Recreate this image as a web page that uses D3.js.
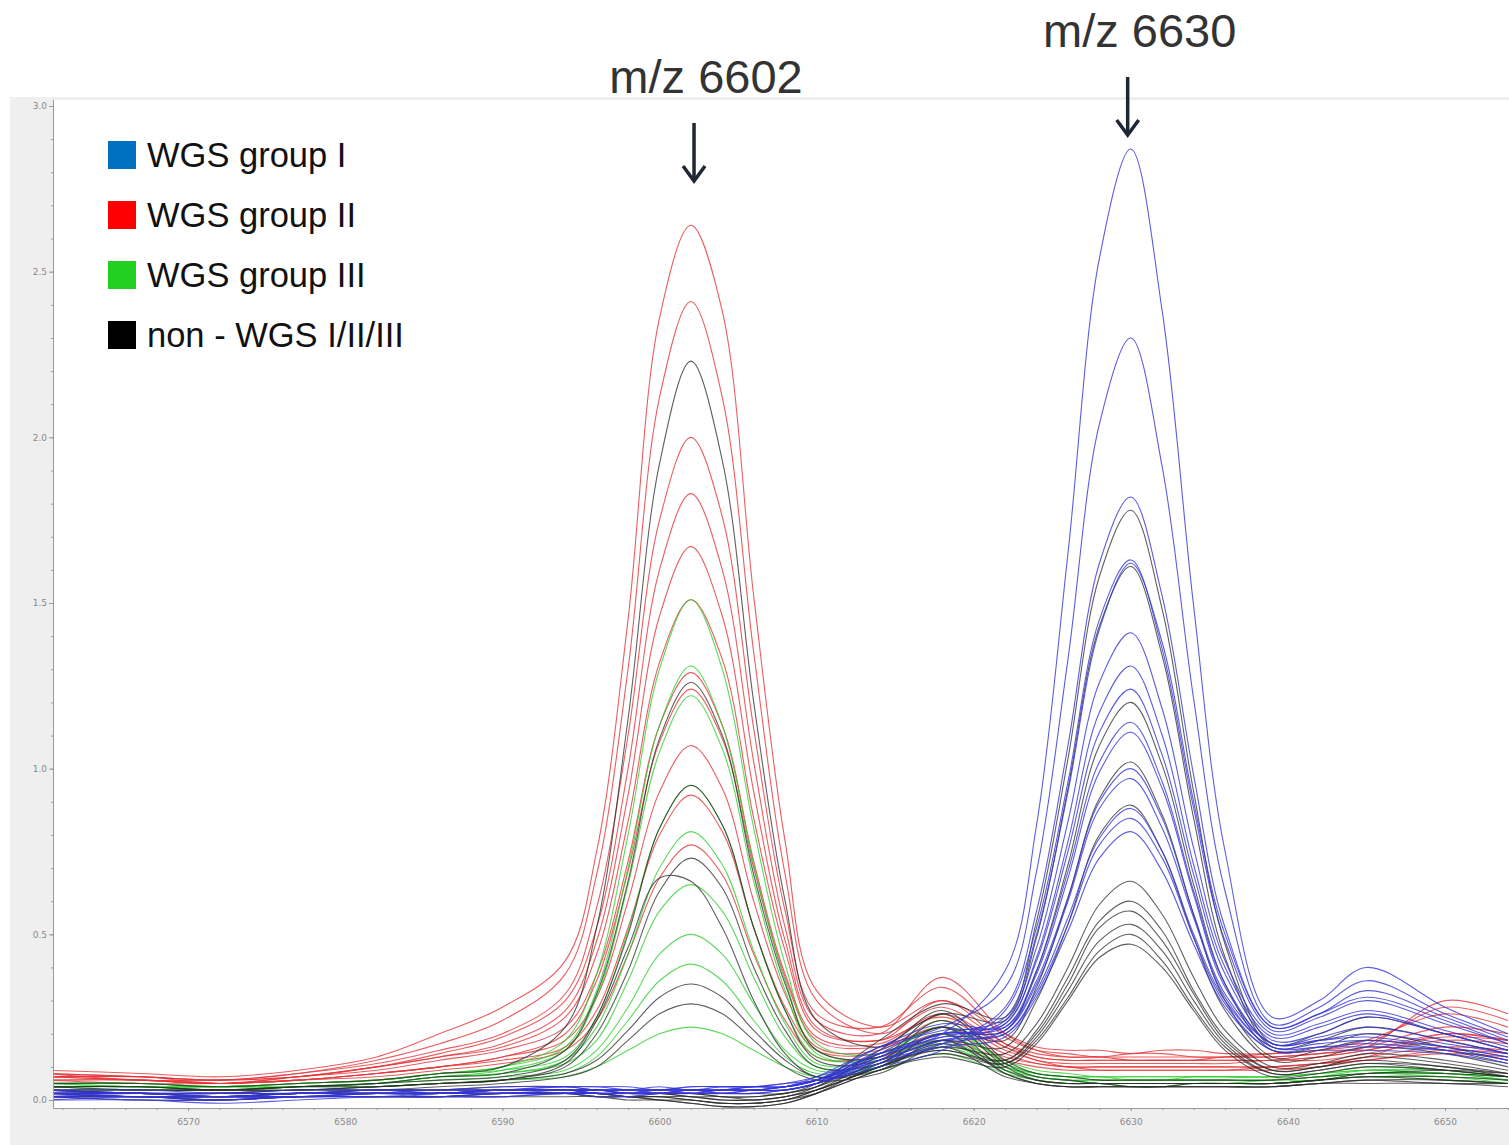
<!DOCTYPE html>
<html>
<head>
<meta charset="utf-8">
<script src="https://cdn.jsdelivr.net/npm/d3@7"></script>
<style>
body { margin: 0; background: #fff; }
svg { display: block; font-family: "Liberation Sans", Arial, sans-serif; }
</style>
</head>
<body>
<script>

var mz = [6561, 6567, 6572, 6577, 6582, 6586, 6590, 6594, 6596, 6598, 6600, 6602, 6604, 6606, 6608, 6610,
          6614, 6618, 6622, 6624, 6626, 6628, 6630, 6632, 6634, 6636, 6639, 6642, 6645, 6650, 6654];

// WGS group I (blue) - peak at 6630
var groupI = [
  [0.02,0.01,0.01,0.02,0.02,0.02,0.03,0.03,0.03,0.02,0.03,0.03,0.03,0.04,0.04,0.06,0.14,0.2, 0.39,0.83,1.65,2.54,2.87,2.38,1.49,0.75,0.25, 0.3,0.4,0.28,0.2],
  [0.01,0.01,0.0,0.01,0.02,0.01,0.02,0.02,0.02,0.02,0.02,0.03,0.02,0.03,0.04,0.07,0.16,0.22, 0.34,0.69,1.33,2.04,2.30,1.91,1.21,0.63,0.23, 0.28,0.36,0.26,0.19],
  [0.03,0.02,0.02,0.02,0.03,0.03,0.03,0.04,0.04,0.03,0.03,0.04,0.04,0.04,0.05,0.06,0.12,0.17, 0.28,0.57,1.07,1.62,1.82,1.52,0.98,0.52,0.22, 0.26,0.33,0.25,0.18],
  [0.0,0.0,-0.01,0.0,0.01,0.01,0.01,0.02,0.02,0.01,0.02,0.02,0.02,0.03,0.03,0.05,0.1,0.15, 0.27,0.52,0.96,1.45,1.63,1.36,0.88,0.48,0.21, 0.25,0.3,0.23,0.17],
  [0.02,0.02,0.01,0.01,0.02,0.03,0.03,0.03,0.02,0.02,0.03,0.02,0.03,0.03,0.04,0.06,0.13,0.19, 0.24,0.46,0.84,1.26,1.41,1.18,0.76,0.42,0.2, 0.23,0.27,0.21,0.16],
  [0.01,0.02,0.01,0.01,0.01,0.02,0.02,0.03,0.03,0.03,0.02,0.03,0.03,0.03,0.03,0.05,0.15,0.21, 0.23,0.43,0.78,1.17,1.31,1.1,0.71,0.4,0.19, 0.22,0.26,0.2,0.15],
  [0.03,0.02,0.02,0.03,0.03,0.02,0.03,0.04,0.03,0.03,0.04,0.03,0.04,0.04,0.04,0.06,0.12,0.18, 0.23,0.42,0.75,1.11,1.24,1.04,0.68,0.38,0.18, 0.2,0.25,0.2,0.15],
  [0.01,0.0,0.0,0.01,0.01,0.01,0.02,0.02,0.02,0.02,0.02,0.02,0.02,0.02,0.03,0.05,0.13,0.2, 0.22,0.39,0.69,1.02,1.14,0.96,0.63,0.35,0.17, 0.19,0.22,0.18,0.14],
  [0.02,0.02,0.01,0.02,0.02,0.02,0.03,0.03,0.03,0.03,0.03,0.03,0.03,0.03,0.04,0.06,0.16,0.23, 0.22,0.38,0.67,0.99,1.11,0.94,0.62,0.34,0.17, 0.18,0.2,0.17,0.14],
  [0.02,0.01,0.01,0.01,0.02,0.02,0.02,0.02,0.03,0.02,0.02,0.03,0.03,0.03,0.03,0.05,0.11,0.17, 0.21,0.36,0.61,0.9,1.0,0.85,0.56,0.32,0.17, 0.18,0.19,0.16,0.13],
  [0.03,0.03,0.02,0.02,0.03,0.03,0.04,0.04,0.04,0.04,0.03,0.04,0.04,0.04,0.05,0.07,0.14,0.2, 0.21,0.35,0.6,0.88,0.97,0.82,0.55,0.31,0.16, 0.17,0.18,0.16,0.13],
  [0.0,0.01,0.0,0.01,0.01,0.01,0.01,0.02,0.01,0.01,0.02,0.02,0.02,0.02,0.03,0.05,0.12,0.18, 0.2,0.33,0.55,0.79,0.88,0.75,0.5,0.3,0.16, 0.16,0.17,0.15,0.12],
  [0.02,0.02,0.02,0.02,0.02,0.02,0.03,0.03,0.03,0.03,0.03,0.03,0.03,0.03,0.04,0.06,0.13,0.19, 0.2,0.32,0.53,0.77,0.85,0.73,0.49,0.29,0.15, 0.16,0.16,0.15,0.12],
  [0.01,0.01,0.01,0.01,0.02,0.02,0.02,0.02,0.02,0.02,0.02,0.02,0.03,0.03,0.03,0.05,0.11,0.16, 0.19,0.31,0.51,0.73,0.81,0.69,0.47,0.28,0.15, 0.15,0.15,0.14,0.11],
  [0.02,0.02,0.01,0.02,0.03,0.02,0.03,0.03,0.03,0.03,0.03,0.03,0.03,0.04,0.04,0.06,0.14,0.2, 0.25,0.5,0.93,1.42,1.62,1.38,0.9,0.5,0.22, 0.26,0.31,0.24,0.17]
];

// WGS group II (red) - peak at 6602
var groupII = [
  [0.09,0.08,0.07,0.09,0.13,0.2,0.28,0.42,0.75,1.45,2.36,2.64,2.38,1.52,0.78,0.33,0.22,0.3,0.2,0.16,0.15,0.15,0.14,0.15,0.15,0.14,0.14,0.15,0.18,0.26,0.22],
  [0.08,0.07,0.06,0.08,0.12,0.17,0.24,0.38,0.68,1.3,2.12,2.41,2.12,1.35,0.68,0.3,0.2,0.28,0.17,0.14,0.13,0.13,0.13,0.13,0.13,0.13,0.13,0.14,0.16,0.22,0.2],
  [0.07,0.07,0.06,0.08,0.11,0.15,0.2,0.32,0.58,1.1,1.75,2.0,1.76,1.12,0.57,0.26,0.22,0.34,0.19,0.15,0.14,0.13,0.14,0.14,0.13,0.13,0.14,0.15,0.17,0.28,0.24],
  [0.08,0.06,0.06,0.07,0.1,0.14,0.19,0.3,0.52,1.0,1.6,1.83,1.6,1.02,0.52,0.24,0.2,0.37,0.2,0.15,0.13,0.13,0.12,0.12,0.12,0.13,0.13,0.14,0.16,0.3,0.26],
  [0.07,0.07,0.05,0.07,0.1,0.13,0.17,0.27,0.48,0.92,1.46,1.67,1.46,0.93,0.48,0.22,0.18,0.3,0.17,0.13,0.12,0.12,0.12,0.12,0.12,0.12,0.12,0.13,0.15,0.2,0.18],
  [0.08,0.07,0.06,0.07,0.1,0.13,0.16,0.25,0.44,0.84,1.32,1.51,1.33,0.85,0.45,0.21,0.18,0.25,0.16,0.13,0.12,0.12,0.12,0.12,0.12,0.12,0.12,0.13,0.15,0.19,0.18],
  [0.06,0.06,0.05,0.07,0.09,0.12,0.15,0.22,0.38,0.72,1.13,1.29,1.13,0.72,0.38,0.19,0.17,0.26,0.16,0.12,0.11,0.11,0.11,0.11,0.11,0.11,0.12,0.12,0.14,0.18,0.17],
  [0.07,0.06,0.05,0.06,0.08,0.1,0.13,0.2,0.36,0.69,1.08,1.24,1.09,0.7,0.37,0.18,0.16,0.22,0.14,0.11,0.1,0.1,0.1,0.1,0.1,0.1,0.1,0.11,0.13,0.16,0.15],
  [0.06,0.06,0.05,0.06,0.08,0.1,0.13,0.18,0.31,0.6,0.93,1.07,0.94,0.6,0.32,0.16,0.15,0.24,0.15,0.12,0.1,0.1,0.1,0.1,0.1,0.1,0.1,0.11,0.13,0.2,0.18],
  [0.07,0.06,0.05,0.06,0.08,0.1,0.12,0.16,0.27,0.52,0.8,0.92,0.81,0.52,0.28,0.15,0.14,0.2,0.13,0.11,0.1,0.09,0.09,0.09,0.09,0.09,0.1,0.11,0.12,0.15,0.14],
  [0.06,0.05,0.05,0.06,0.07,0.09,0.11,0.15,0.24,0.44,0.67,0.77,0.68,0.44,0.24,0.13,0.13,0.18,0.12,0.1,0.09,0.09,0.09,0.09,0.09,0.09,0.09,0.1,0.12,0.14,0.13]
];

// WGS group III (green) - peak at 6602
var groupIII = [
  [0.05,0.05,0.04,0.05,0.06,0.08,0.1,0.18,0.38,0.8,1.3,1.51,1.3,0.82,0.41,0.17,0.14,0.22,0.12,0.09,0.08,0.07,0.07,0.07,0.07,0.07,0.07,0.08,0.09,0.08,0.07],
  [0.05,0.04,0.04,0.05,0.06,0.08,0.1,0.16,0.33,0.7,1.13,1.31,1.13,0.71,0.36,0.15,0.13,0.24,0.11,0.08,0.07,0.07,0.06,0.06,0.07,0.07,0.07,0.08,0.09,0.09,0.07],
  [0.04,0.04,0.04,0.04,0.05,0.07,0.09,0.15,0.31,0.65,1.05,1.22,1.06,0.66,0.33,0.14,0.12,0.2,0.1,0.08,0.07,0.06,0.06,0.06,0.06,0.06,0.06,0.07,0.08,0.08,0.06],
  [0.05,0.05,0.04,0.05,0.06,0.08,0.09,0.13,0.25,0.51,0.82,0.95,0.83,0.52,0.27,0.13,0.13,0.22,0.11,0.08,0.07,0.07,0.07,0.07,0.07,0.07,0.07,0.08,0.1,0.09,0.07],
  [0.04,0.04,0.03,0.04,0.05,0.07,0.08,0.12,0.22,0.44,0.7,0.81,0.71,0.45,0.23,0.11,0.12,0.18,0.1,0.07,0.06,0.06,0.06,0.06,0.06,0.06,0.06,0.07,0.08,0.08,0.06],
  [0.05,0.04,0.04,0.04,0.05,0.07,0.08,0.11,0.18,0.36,0.57,0.65,0.57,0.37,0.19,0.1,0.11,0.2,0.1,0.07,0.06,0.06,0.06,0.06,0.06,0.06,0.06,0.07,0.09,0.08,0.07],
  [0.04,0.04,0.03,0.04,0.05,0.06,0.07,0.09,0.15,0.28,0.44,0.5,0.44,0.29,0.15,0.09,0.1,0.17,0.09,0.07,0.06,0.05,0.05,0.05,0.05,0.05,0.06,0.06,0.08,0.07,0.06],
  [0.04,0.03,0.03,0.04,0.04,0.05,0.06,0.08,0.13,0.24,0.36,0.41,0.36,0.24,0.13,0.08,0.1,0.16,0.09,0.06,0.05,0.05,0.05,0.05,0.05,0.05,0.05,0.06,0.07,0.07,0.05],
  [0.03,0.03,0.03,0.03,0.04,0.05,0.06,0.07,0.1,0.15,0.2,0.22,0.2,0.15,0.1,0.07,0.09,0.14,0.08,0.06,0.05,0.05,0.04,0.04,0.05,0.05,0.05,0.06,0.07,0.06,0.05]
];

// non - WGS I/II/III (black) - some at 6602, some at 6630
var nonWGS = [
  [0.05,0.05,0.04,0.05,0.06,0.08,0.1,0.22,0.52,1.15,1.92,2.23,1.93,1.2,0.6,0.24,0.16,0.27,0.12,0.08,0.07,0.06,0.06,0.06,0.06,0.06,0.06,0.07,0.08,0.09,0.08],
  [0.04,0.04,0.03,0.04,0.05,0.07,0.08,0.15,0.32,0.66,1.09,1.26,1.1,0.68,0.35,0.15,0.13,0.26,0.11,0.07,0.06,0.05,0.05,0.05,0.05,0.05,0.05,0.06,0.08,0.08,0.07],
  [0.04,0.04,0.03,0.04,0.05,0.06,0.07,0.12,0.25,0.5,0.82,0.95,0.83,0.52,0.27,0.12,0.12,0.24,0.1,0.06,0.05,0.05,0.05,0.05,0.05,0.05,0.05,0.06,0.07,0.07,0.06],
  [0.04,0.03,0.03,0.04,0.04,0.05,0.06,0.1,0.2,0.39,0.63,0.73,0.64,0.4,0.21,0.1,0.11,0.22,0.09,0.06,0.05,0.05,0.04,0.04,0.05,0.05,0.05,0.06,0.07,0.06,0.05],
  [0.03,0.03,0.03,0.03,0.04,0.05,0.06,0.11,0.24,0.46,0.67,0.66,0.52,0.3,0.14,0.07,0.1,0.2,0.08,0.05,0.04,0.04,0.04,0.04,0.04,0.04,0.04,0.05,0.06,0.06,0.05],
  [0.03,0.03,0.03,0.03,0.04,0.05,0.06,0.08,0.12,0.21,0.31,0.35,0.31,0.21,0.12,0.07,0.09,0.18,0.08,0.05,0.04,0.04,0.04,0.04,0.04,0.04,0.04,0.05,0.06,0.05,0.05],
  [0.03,0.02,0.02,0.03,0.03,0.04,0.05,0.07,0.1,0.18,0.26,0.29,0.26,0.18,0.1,0.06,0.08,0.16,0.07,0.05,0.04,0.04,0.04,0.04,0.04,0.04,0.04,0.05,0.05,0.05,0.04],
  [0.03,0.02,0.02,0.03,0.03,0.03,0.04,0.04,0.03,0.03,0.03,0.03,0.02,0.02,0.02,0.05,0.18,0.29, 0.25,0.54,1.03,1.58,1.78,1.48,0.93,0.47,0.17, 0.2,0.25,0.2,0.15],
  [0.02,0.02,0.01,0.02,0.02,0.02,0.03,0.03,0.02,0.02,0.02,0.01,0.01,0.0,0.01,0.04,0.15,0.26, 0.24,0.49,0.94,1.43,1.61,1.34,0.85,0.43,0.16, 0.18,0.22,0.18,0.14],
  [0.02,0.01,0.01,0.02,0.02,0.02,0.02,0.02,0.02,0.01,0.01,0.0,-0.01,-0.01,0.0,0.03,0.12,0.2, 0.21,0.39,0.71,1.07,1.2,1.01,0.65,0.35,0.15, 0.16,0.2,0.16,0.12],
  [0.03,0.02,0.02,0.02,0.03,0.03,0.03,0.03,0.03,0.02,0.02,0.02,0.01,0.01,0.02,0.04,0.14,0.22, 0.18,0.34,0.61,0.91,1.02,0.86,0.56,0.3,0.13, 0.15,0.18,0.15,0.11],
  [0.01,0.01,0.0,0.01,0.01,0.01,0.02,0.02,0.01,0.01,0.0,-0.01,-0.02,-0.02,-0.01,0.02,0.11,0.18, 0.16,0.3,0.53,0.8,0.89,0.75,0.49,0.27,0.12, 0.13,0.16,0.14,0.1],
  [0.02,0.02,0.01,0.02,0.02,0.02,0.03,0.03,0.02,0.02,0.02,0.01,0.0,0.0,0.01,0.03,0.1,0.16, 0.14,0.23,0.4,0.59,0.66,0.56,0.37,0.21,0.1, 0.11,0.14,0.12,0.09],
  [0.01,0.01,0.01,0.01,0.02,0.02,0.02,0.02,0.02,0.01,0.01,0.0,-0.01,-0.01,0.0,0.03,0.1,0.17, 0.12,0.21,0.37,0.54,0.6,0.51,0.33,0.19,0.09, 0.1,0.13,0.11,0.08],
  [0.02,0.02,0.02,0.02,0.03,0.03,0.03,0.03,0.03,0.02,0.02,0.02,0.01,0.01,0.02,0.04,0.11,0.15, 0.12,0.2,0.35,0.52,0.57,0.48,0.32,0.18,0.09, 0.1,0.12,0.1,0.08],
  [0.01,0.0,0.0,0.01,0.01,0.01,0.01,0.01,0.01,0.0,0.0,-0.01,-0.02,-0.02,-0.01,0.02,0.09,0.14, 0.11,0.19,0.33,0.48,0.53,0.45,0.3,0.17,0.08, 0.09,0.11,0.1,0.07],
  [0.02,0.01,0.01,0.02,0.02,0.02,0.02,0.02,0.02,0.01,0.01,0.01,0.0,0.0,0.01,0.03,0.1,0.15, 0.11,0.18,0.31,0.45,0.5,0.42,0.28,0.16,0.08, 0.09,0.11,0.09,0.07],
  [0.01,0.01,0.0,0.01,0.01,0.01,0.02,0.02,0.01,0.01,0.0,0.0,-0.01,-0.01,0.0,0.02,0.09,0.13, 0.1,0.17,0.3,0.43,0.47,0.4,0.27,0.15,0.07, 0.08,0.1,0.09,0.07]
];

var yTicks = [0, 0.5, 1.0, 1.5, 2.0, 2.5, 3.0];
var xTicks = [6570, 6580, 6590, 6600, 6610, 6620, 6630, 6640, 6650];

var legendLabels = ["WGS group I", "WGS group II", "WGS group III", "non - WGS I/II/III"];
var legendColors = ["#0070c0", "#ff0000", "#22d022", "#000000"];

var peakLabels = ["m/z 6602", "m/z 6630"];
var peakMz = [6602.2, 6629.8];


var width = 1509, height = 1145;

var svg = d3.select("body").append("svg")
    .attr("width", width)
    .attr("height", height);

// scales
var x = d3.scaleLinear().domain([6561.4, 6654.07]).range([53, 1509]);
var y = d3.scaleLinear().domain([0, 3]).range([1100, 106]);

var plotTop = 100, plotBottom = 1108;

// grey panel and white plotting area
svg.append("rect")
    .attr("x", 10).attr("y", 97)
    .attr("width", width - 10).attr("height", height - 97)
    .attr("fill", "#efefef");

svg.append("rect")
    .attr("x", 54).attr("y", plotTop)
    .attr("width", width - 54).attr("height", plotBottom - plotTop)
    .attr("fill", "#ffffff");

svg.append("clipPath").attr("id", "plotClip")
    .append("rect")
    .attr("x", 54).attr("y", plotTop)
    .attr("width", width - 54).attr("height", plotBottom - plotTop);

// spectra
var line = d3.line()
    .x(function(d, i) { return x(mz[i]); })
    .y(function(d) { return y(d); })
    .curve(d3.curveCatmullRom.alpha(0.5));

var spectra = svg.append("g").attr("clip-path", "url(#plotClip)");

function drawGroup(data, color, opacity) {
    spectra.append("g")
        .selectAll("path")
        .data(data)
        .enter()
        .append("path")
        .attr("d", line)
        .attr("fill", "none")
        .attr("stroke", color)
        .attr("stroke-width", 1.1)
        .attr("stroke-opacity", opacity);
}

drawGroup(groupII, "#e4343a", 0.8);
drawGroup(groupIII, "#25cc25", 0.75);
drawGroup(nonWGS, "#2a2a2a", 0.75);
drawGroup(groupI, "#3434d6", 0.8);

// y axis (major + minor ticks)
var yMinor = d3.range(0, 3.01, 0.1);

svg.append("g")
    .attr("class", "axis")
    .attr("transform", "translate(53,0)")
    .call(d3.axisLeft(y).tickValues(yMinor).tickSize(2).tickSizeOuter(0).tickFormat(""));

svg.append("g")
    .attr("class", "axis")
    .attr("transform", "translate(53,0)")
    .call(d3.axisLeft(y).tickValues(yTicks).tickSize(4).tickSizeOuter(0)
        .tickPadding(2).tickFormat(d3.format(".1f")));

svg.append("line")
    .attr("x1", 53.5).attr("x2", 53.5)
    .attr("y1", plotTop).attr("y2", plotBottom)
    .attr("stroke", "#999");

// x axis (major + minor ticks)
var xMinor = d3.range(6562, 6655, 2);

svg.append("g")
    .attr("class", "axis")
    .attr("transform", "translate(0," + plotBottom + ")")
    .call(d3.axisBottom(x).tickValues(xMinor).tickSize(2).tickSizeOuter(0).tickFormat(""));

svg.append("g")
    .attr("class", "axis")
    .attr("transform", "translate(0," + plotBottom + ")")
    .call(d3.axisBottom(x).tickValues(xTicks).tickSize(3).tickSizeOuter(0)
        .tickPadding(8).tickFormat(d3.format("d")));

svg.selectAll(".axis path.domain").attr("stroke", "#999");
svg.selectAll(".axis line").attr("stroke", "#999");
svg.selectAll(".axis text")
    .attr("fill", "#8a8a8a")
    .style("font-size", "9px")
    .style("font-family", "'DejaVu Sans', sans-serif");

// legend
var legend = svg.append("g").attr("transform", "translate(108,141)");

legend.selectAll("rect")
    .data(legendLabels)
    .enter()
    .append("rect")
    .attr("x", 0)
    .attr("y", function(d, i) { return i * 60; })
    .attr("width", 28).attr("height", 28)
    .attr("fill", function(d, i) { return legendColors[i]; });

legend.selectAll("text")
    .data(legendLabels)
    .enter()
    .append("text")
    .attr("x", 39)
    .attr("y", function(d, i) { return i * 60 + 26; })
    .attr("fill", "#111")
    .style("font-size", "34.5px")
    .text(function(d) { return d; });

// peak annotations with arrows
var tops = [123, 77];

peakLabels.forEach(function(label, i) {
    var px = x(peakMz[i]);
    var y1 = tops[i], y2 = tops[i] + 58;

    svg.append("text")
        .attr("x", px + 12)
        .attr("y", y1 - 30)
        .attr("text-anchor", "middle")
        .attr("fill", "#333")
        .style("font-size", "47px")
        .text(label);

    svg.append("line")
        .attr("x1", px).attr("x2", px)
        .attr("y1", y1).attr("y2", y2 - 2)
        .attr("stroke", "#1e2733")
        .attr("stroke-width", 3.5);

    svg.append("path")
        .attr("d", "M" + (px - 11) + "," + (y2 - 15) + " L" + px + "," + y2 + " L" + (px + 11) + "," + (y2 - 15))
        .attr("fill", "none")
        .attr("stroke", "#1e2733")
        .attr("stroke-width", 3.5);
});

</script>
</body>
</html>
